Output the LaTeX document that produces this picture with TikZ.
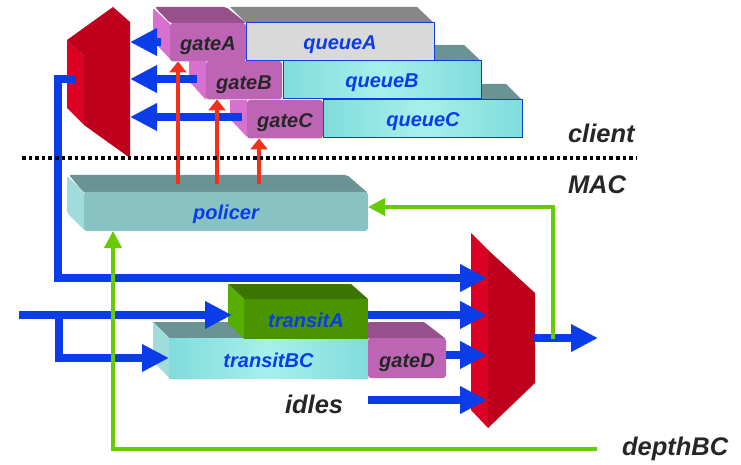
\documentclass[tikz,border=0pt]{standalone}
\usepackage{fontspec}
\setmainfont{Liberation Sans}
\usetikzlibrary{arrows.meta}
\definecolor{blueL}{HTML}{0A3DE8}
\definecolor{txtD}{HTML}{262626}
\definecolor{redA}{HTML}{F5301A}
\definecolor{grn}{HTML}{66CC00}
\definecolor{muxL}{HTML}{DC0024}
\definecolor{muxD}{HTML}{BF001C}
\definecolor{gateF}{HTML}{BE64B4}
\definecolor{gateT}{HTML}{96508C}
\definecolor{gateS}{HTML}{D870D0}
\definecolor{tealT}{HTML}{6B9393}
\definecolor{tealE}{HTML}{80DCDC}
\definecolor{tealM}{HTML}{A6F0EC}
\definecolor{tealS}{HTML}{A0DCDC}
\definecolor{polF}{HTML}{88C2C2}
\definecolor{grnF}{HTML}{4A9400}
\definecolor{grnT}{HTML}{3B7500}
\definecolor{grnS}{HTML}{57AD00}
\tikzset{
  lbl/.style={font=\bfseries\itshape\fontsize{20}{24}\selectfont,inner sep=0pt,outer sep=0pt},
  boxnode/.style={lbl,anchor=north west,minimum width=#1,text centered,text height=16pt,text depth=0pt},
  gatebox/.style={boxnode=76pt,minimum height=38.5pt,fill=gateF,rounded corners=3pt,text=txtD},
  queuebox/.style={boxnode=#1,minimum height=38pt,left color=tealE,right color=tealE,middle color=tealM,draw=blueL,line width=1pt,text=blueL},
  bluearrow/.style={draw=blueL,line width=8pt,-{Triangle[length=27pt,width=26pt,fill=blueL]}},
  redarrow/.style={draw=redA,line width=4pt,-{Triangle[length=11pt,width=17pt,fill=redA]}},
  greenarrow/.style={draw=grn,line width=4pt,-{Triangle[length=17pt,width=17pt,fill=grn]}},
  sidelabel/.style={lbl,text=txtD,font=\bfseries\itshape\fontsize{25.5}{28}\selectfont},
}
\begin{document}
\begin{tikzpicture}[x=1pt,y=-1pt]
\useasboundingbox (0,0) rectangle (741,465);
% coordinates
\coordinate (muxLa) at (130,42);
\coordinate (muxLb) at (130,79);
\coordinate (muxLc) at (130,117);
\coordinate (muxLo) at (76,79);
\coordinate (muxRa) at (487,278);
\coordinate (muxRb) at (487,315);
\coordinate (muxRc) at (487,355);
\coordinate (muxRd) at (487,400);
\coordinate (muxOut) at (534,338);
\coordinate (outTip) at (598,338);
\coordinate (outTap) at (553,339);
\coordinate (inStart) at (19,315);
\coordinate (inBranch) at (59,315);
\coordinate (polRa) at (178,184);
\coordinate (polRb) at (217,184);
\coordinate (polRc) at (259,184);
\coordinate (polIn) at (113,231);
\coordinate (dotA) at (22,158);
\coordinate (dotB) at (637,158);
% queue A/B/C tops
\fill[black!47] (230,7) -- (417,7) -- (434,23) -- (246,23) -- cycle;
\fill[tealT] (433,45) -- (464,45) -- (481,61) -- (433,61) -- cycle;
\fill[tealT] (481,84) -- (506,84) -- (522,100) -- (481,100) -- cycle;
% left mux
\fill[muxL] (67,40) -- (84,56) -- (84,125) -- (67,108) -- cycle;
\fill[muxD] (67,40) -- (113,7) -- (130,22) -- (130,158) -- (84,125) -- (84,56) -- cycle;
\draw[muxL!60!muxD,line width=.5pt] (84,56) -- (130,22);
% gate A
\fill[gateT,rounded corners=2pt] (155,7) -- (226,7) -- (246,23) -- (170,23) -- cycle;
\fill[gateS,rounded corners=2pt] (153,8) -- (171,25) -- (172,61) -- (153,41) -- cycle;
\node[queuebox=188pt,left color=black!15,right color=black!15,middle color=black!15] (queueA) at (246,23) {queueA};
\node[gatebox] (gateA) at (170,23) {gateA};
% gate B
\fill[gateS] (189,61) -- (206,61) -- (206,100) -- (189,81) -- cycle;
\node[queuebox=198pt] (queueB) at (283,61) {queueB};
\node[gatebox,text height=18pt] (gateB) at (206,61) {gateB};
% gate C
\fill[gateS] (230,100) -- (247,100) -- (247,137) -- (230,119) -- cycle;
\node[queuebox=199pt] (queueC) at (323.5,100) {queueC};
\node[gatebox,minimum width=76pt] (gateC) at (247,100) {gateC};
% policer
\fill[tealT,rounded corners=2pt] (69,175) -- (347,175) -- (368,193) -- (84,193) -- cycle;
\fill[tealS,rounded corners=2pt] (67,176) -- (85,193) -- (85,231) -- (67,213) -- cycle;
\node[boxnode=284pt,minimum height=39pt,fill=polF,rounded corners=3pt,text=blueL] (policer) at (84,192) {policer};
% right mux
\fill[muxL] (471,233) -- (488,250) -- (488,428) -- (471,410) -- cycle;
\fill[muxD] (488,250) -- (535,293) -- (535,383) -- (488,428) -- cycle;
% transitBC
\fill[tealT] (153,322) -- (244,322) -- (260,338) -- (169,338) -- cycle;
\fill[tealS] (153,322) -- (169,338) -- (169,378) -- (153,361) -- cycle;
\node[boxnode=199pt,minimum height=40pt,text height=18pt,left color=tealE,right color=tealE,middle color=tealM,text=blueL] (transitBC) at (169,338) {transitBC};
% transitA
\fill[grnT] (228,284) -- (351,284) -- (368,299) -- (244,299) -- cycle;
\fill[grnS] (228,284) -- (244,299) -- (244,339) -- (228,323) -- cycle;
\node[boxnode=124pt,minimum height=40pt,fill=grnF,text=blueL] (transitA) at (244,299) {transitA};
% gateD
\fill[gateT,rounded corners=1pt] (368,322) -- (424,322) -- (446,339) -- (368,339) -- cycle;
\node[gatebox,minimum width=78pt,minimum height=40pt,text height=18pt] (gateD) at (368,338) {gateD};
% labels
\node[sidelabel,anchor=west] (client) at (568,133) {client};
\node[sidelabel,anchor=west] (mac) at (568,185) {MAC};
\node[sidelabel,anchor=west] (idles) at (285,404) {idles};
\node[sidelabel,anchor=west] (depthBC) at (622,449) {depthBC};
% blue connectors
\draw[bluearrow] ([xshift=-9pt]gateA.west |- muxLa) -- (muxLa);
\draw[bluearrow] ([xshift=-9pt]gateB.west |- muxLb) -- (muxLb);
\draw[bluearrow] ([xshift=-5pt]gateC.west |- muxLc) -- (muxLc);
\draw[bluearrow] (muxLo) -- (58,79) -- (58,278) -- (muxRa);
\draw[bluearrow] (transitA.east |- muxRb) -- (muxRb);
\draw[bluearrow] (gateD.east |- muxRc) -- (muxRc);
\draw[bluearrow] (368,400) -- (muxRd);
\draw[bluearrow] (muxOut) -- (outTip);
\draw[bluearrow] (inStart) -- ([xshift=-12pt]transitA.west |- inStart);
\draw[bluearrow] (inBranch) |- (transitBC.west);
% red connectors
\draw[redarrow] (polRa) -- (polRa |- gateA.south);
\draw[redarrow] (polRb) -- (polRb |- gateB.south);
\draw[redarrow] (polRc) -- (polRc |- gateC.south);
% green connectors
\draw[greenarrow] (outTap) |- ([yshift=4.5pt]policer.east);
\draw[greenarrow] ([xshift=-25pt]depthBC.west) -| (polIn);
% dotted separator
\draw[black,line width=4pt,dash pattern=on 3.6pt off 3pt] (dotA) -- (dotB);
\end{tikzpicture}
\end{document}
